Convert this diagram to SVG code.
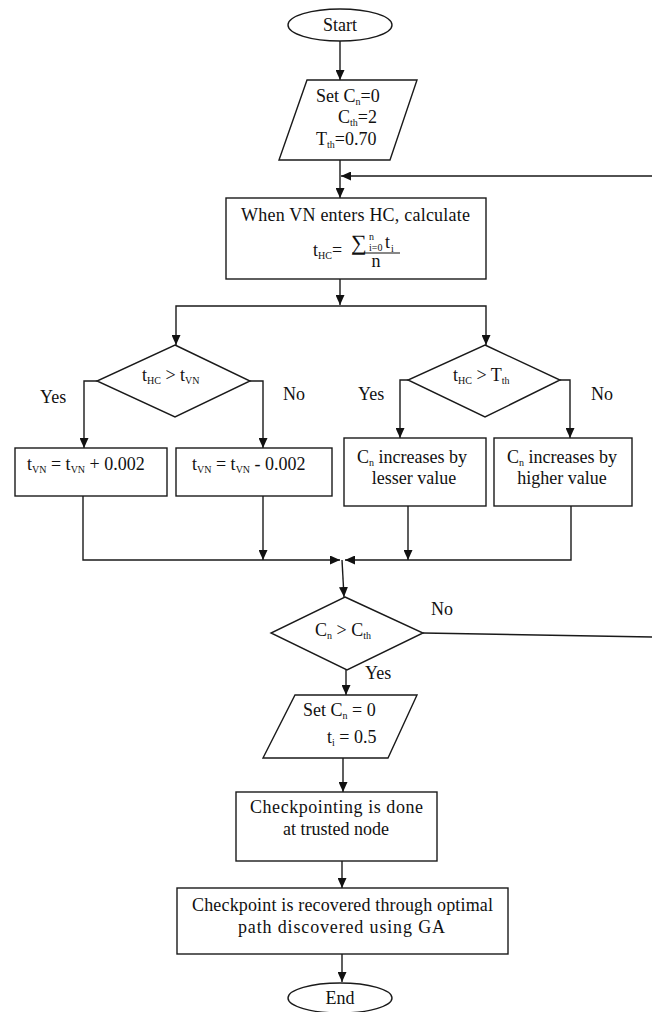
<svg xmlns="http://www.w3.org/2000/svg" width="652" height="1012" viewBox="0 0 652 1012">
<style>
.s{fill:#fff;stroke:#1a1a1a;stroke-width:1.4}
.c{fill:none;stroke:#1a1a1a;stroke-width:1.4}
text{font-family:"Liberation Serif","Times New Roman",serif;font-size:18px;fill:#111}
.m{text-anchor:middle}
.sb{font-size:10px}
.sm{font-size:10px}
</style>
<defs>
<marker id="ah" markerWidth="10" markerHeight="9" refX="10" refY="4.5" orient="auto" markerUnits="userSpaceOnUse">
<path d="M0,0 L10,4.5 L0,9 z" fill="#111"/>
</marker>
</defs>
<rect width="652" height="1012" fill="#fff"/>
<g id="connectors">
<path class="c" d="M340,41 V80" marker-end="url(#ah)"/>
<path class="c" d="M340,160 V198" marker-end="url(#ah)"/>
<path class="c" d="M423,633 L653,637 V176 H341" marker-end="url(#ah)"/>
<path class="c" d="M340,279 V305" marker-end="url(#ah)"/>
<path class="c" d="M340,306 H176 V345" marker-end="url(#ah)"/>
<path class="c" d="M340,306 H486 V345" marker-end="url(#ah)"/>
<path class="c" d="M97,381 H84 V448" marker-end="url(#ah)"/>
<path class="c" d="M250,381 H263 V448" marker-end="url(#ah)"/>
<path class="c" d="M408,380 H400 V438" marker-end="url(#ah)"/>
<path class="c" d="M560,380 H570 V438" marker-end="url(#ah)"/>
<path class="c" d="M83,496 V560 H340" marker-end="url(#ah)"/>
<path class="c" d="M263,496 V560" marker-end="url(#ah)"/>
<path class="c" d="M408,506 V560" marker-end="url(#ah)"/>
<path class="c" d="M571,506 V560 H345" marker-end="url(#ah)"/>
<path class="c" d="M342,560 L344,597" marker-end="url(#ah)"/>
<path class="c" d="M346,670 V695" marker-end="url(#ah)"/>
<path class="c" d="M343,758 V792" marker-end="url(#ah)"/>
<path class="c" d="M342,861 V888" marker-end="url(#ah)"/>
<path class="c" d="M342,954 V982" marker-end="url(#ah)"/>
</g>
<g id="start">
<ellipse class="s" cx="340" cy="25" rx="52" ry="16"/>
<text class="m" x="340" y="31">Start</text>
</g>
<g id="init">
<polygon class="s" points="307,80 417,80 390,160 279,160"/>
<text x="316" y="102">Set C<tspan class="sb" dy="3">n</tspan><tspan dy="-3">=0</tspan></text>
<text x="338" y="123">C<tspan class="sb" dy="3">th</tspan><tspan dy="-3">=2</tspan></text>
<text x="316" y="145">T<tspan class="sb" dy="3">th</tspan><tspan dy="-3">=0.70</tspan></text>
</g>
<g id="calc">
<rect class="s" x="226" y="198" width="260" height="81"/>
<text x="241" y="221" textLength="229" lengthAdjust="spacing">When VN enters HC, calculate</text>
<text x="313" y="256">t<tspan class="sb" dy="3">HC</tspan><tspan dy="-3">=</tspan></text>
<text x="351" y="250" style="font-size:22px">∑</text>
<text class="sm" x="369" y="240">n</text>
<text class="sm" x="369" y="251">i=0</text>
<text x="385" y="248">t</text>
<text class="sm" x="391" y="252">i</text>
<line x1="352" y1="253" x2="400" y2="253" stroke="#111" stroke-width="1.2"/>
<text class="m" x="376" y="267">n</text>
</g>
<g id="dec1">
<polygon class="s" points="175,345 250,381 175,417 97,381"/>
<text x="142" y="381">t<tspan class="sb" dy="3">HC</tspan><tspan dy="-3"> &gt; t</tspan><tspan class="sb" dy="3">VN</tspan></text>
</g>
<g id="dec2">
<polygon class="s" points="485,345 560,380 485,417 408,380"/>
<text x="453" y="381">t<tspan class="sb" dy="3">HC</tspan><tspan dy="-3"> &gt; T</tspan><tspan class="sb" dy="3">th</tspan></text>
</g>
<g id="box1">
<rect class="s" x="15" y="448" width="152" height="48"/>
<text x="27" y="470">t<tspan class="sb" dy="3">VN</tspan><tspan dy="-3"> = t</tspan><tspan class="sb" dy="3">VN</tspan><tspan dy="-3"> + 0.002</tspan></text>
</g>
<g id="box2">
<rect class="s" x="176" y="448" width="156" height="48"/>
<text x="192" y="470">t<tspan class="sb" dy="3">VN</tspan><tspan dy="-3"> = t</tspan><tspan class="sb" dy="3">VN</tspan><tspan dy="-3"> - 0.002</tspan></text>
</g>
<g id="box3">
<rect class="s" x="344" y="438" width="142" height="68"/>
<text x="357" y="463">C<tspan class="sb" dy="3">n</tspan><tspan dy="-3"> increases by</tspan></text>
<text class="m" x="414" y="484">lesser value</text>
</g>
<g id="box4">
<rect class="s" x="494" y="438" width="138" height="68"/>
<text x="507" y="463">C<tspan class="sb" dy="3">n</tspan><tspan dy="-3"> increases by</tspan></text>
<text class="m" x="562" y="484">higher value</text>
</g>
<g id="labels">
<text x="40" y="403">Yes</text>
<text x="283" y="400">No</text>
<text x="358" y="400">Yes</text>
<text x="591" y="400">No</text>
<text x="431" y="615">No</text>
<text x="365" y="679">Yes</text>
</g>
<g id="dec3">
<polygon class="s" points="345,597 423,633 347,670 271,633"/>
<text x="315" y="636">C<tspan class="sb" dy="3">n</tspan><tspan dy="-3"> &gt; C</tspan><tspan class="sb" dy="3">th</tspan></text>
</g>
<g id="reset">
<polygon class="s" points="295,695 417,695 388,758 263,758"/>
<text x="303" y="716">Set C<tspan class="sb" dy="3">n</tspan><tspan dy="-3"> = 0</tspan></text>
<text x="327" y="743">t<tspan class="sb" dy="3">i</tspan><tspan dy="-3"> = 0.5</tspan></text>
</g>
<g id="checkpoint">
<rect class="s" x="236" y="792" width="201" height="69"/>
<text x="250" y="813" textLength="173" lengthAdjust="spacing">Checkpointing is done</text>
<text class="m" x="336" y="835">at trusted node</text>
</g>
<g id="recover">
<rect class="s" x="177" y="888" width="331" height="66"/>
<text x="192" y="911" textLength="301" lengthAdjust="spacing">Checkpoint is recovered through optimal</text>
<text x="238" y="933" textLength="207" lengthAdjust="spacing">path discovered using GA</text>
</g>
<g id="end">
<ellipse class="s" cx="340" cy="998" rx="52" ry="15"/>
<text class="m" x="340" y="1004">End</text>
</g>
</svg>
